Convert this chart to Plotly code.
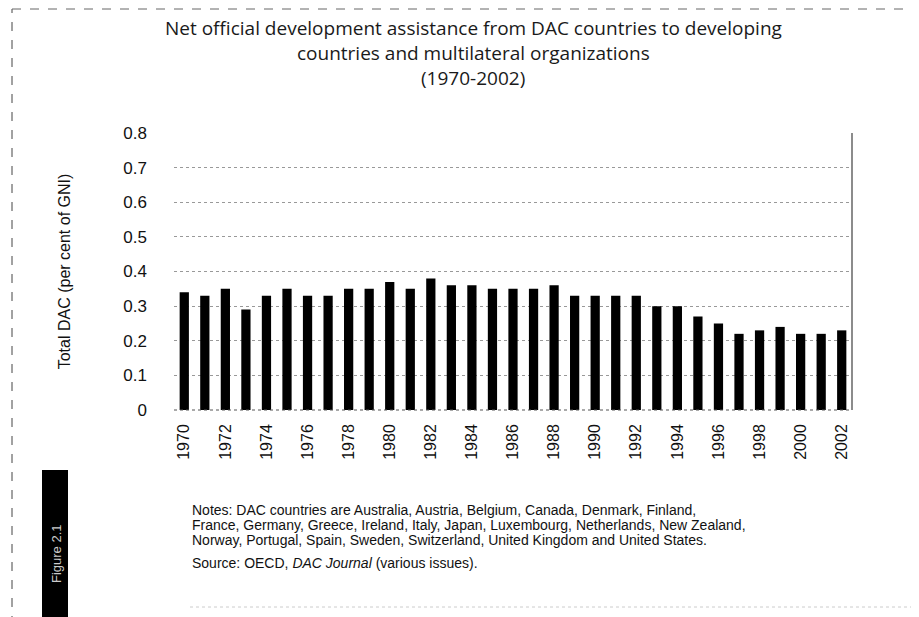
import plotly.graph_objects as go

years = list(range(1970, 2003))
oda_pct_gni = [0.34, 0.33, 0.35, 0.29, 0.33, 0.35, 0.33, 0.33, 0.35, 0.35,
               0.37, 0.35, 0.38, 0.36, 0.36, 0.35, 0.35, 0.35, 0.36, 0.33,
               0.33, 0.33, 0.33, 0.30, 0.30, 0.27, 0.25, 0.22, 0.23, 0.24,
               0.22, 0.22, 0.23]
tick_years = list(range(1970, 2003, 2))
y_ticks = [0, 0.1, 0.2, 0.3, 0.4, 0.5, 0.6, 0.7, 0.8]
y_tick_text = ["0", "0.1", "0.2", "0.3", "0.4", "0.5", "0.6", "0.7", "0.8"]

title_lines = ["Net official development assistance from DAC countries to developing",
               "countries and multilateral organizations",
               "(1970-2002)"]
notes_lines = ["Notes: DAC countries are Australia, Austria, Belgium, Canada, Denmark, Finland,",
               "France, Germany, Greece, Ireland, Italy, Japan, Luxembourg, Netherlands, New Zealand,",
               "Norway, Portugal, Spain, Sweden, Switzerland, United Kingdom and United States."]
source_text = "Source: OECD, <i>DAC Journal</i> (various issues)."
y_title = "Total DAC (per cent of GNI)"

# page has an 8px body margin; work in page coordinates and convert
OFF = 8
W, H = 919 - OFF, 617 - OFF
PL, PR, PT, PB = 174, 852, 133, 410          # plot area in page pixels
L, R, T, B = PL - OFF, PR - OFF, PT - OFF, PB - OFF

def px(x):
    return (x - PL) / (PR - PL)

def py(y):
    return (PB - y) / (PB - PT)

fig = go.Figure()
fig.add_trace(go.Bar(x=years, y=oda_pct_gni, marker=dict(color="black", line=dict(width=0)),
                     width=0.45))

fig.update_layout(
    width=W, height=H,
    margin=dict(l=L, r=W - R, t=T, b=H - B),
    paper_bgcolor="white", plot_bgcolor="white",
    showlegend=False,
    font=dict(family="Liberation Sans, Arial, sans-serif", color="black"),
)
fig.update_xaxes(range=[1969.5, 2002.5], tickvals=tick_years, ticktext=[str(y) for y in tick_years],
                 tickangle=-90, tickfont=dict(size=16, family="Liberation Sans", color="#111"),
                 showgrid=False, showline=False, ticks="", zeroline=False,
                 ticklabelstandoff=10)
fig.update_yaxes(range=[0, 0.8], tickvals=y_ticks, ticktext=y_tick_text,
                 tickfont=dict(size=17, family="Liberation Sans", color="#111"), ticks="",
                 showgrid=True, gridcolor="#999", griddash="dot", gridwidth=1,
                 zeroline=False, showline=False, ticklabelstandoff=26,
                 title=dict(text=y_title, standoff=48,
                            font=dict(size=16, family="Liberation Sans", color="#111")))

annotations = []
for i, line in enumerate(title_lines):
    annotations.append(dict(text=line, xref="paper", yref="paper", x=px(473), y=py(28 + 25 * i),
                            xanchor="center", yanchor="middle", showarrow=False, borderpad=0,
                            font=dict(size=19, family="Open Sans", color="#1a1a1a")))
for i, line in enumerate(notes_lines):
    annotations.append(dict(text=line, xref="paper", yref="paper", x=px(191), y=py(510 + 15 * i),
                            xanchor="left", yanchor="middle", showarrow=False, borderpad=0,
                            font=dict(size=14, family="Liberation Sans", color="#111")))
annotations.append(dict(text=source_text, xref="paper", yref="paper", x=px(191), y=py(563),
                        xanchor="left", yanchor="middle", showarrow=False, borderpad=0,
                        font=dict(size=14, family="Liberation Sans", color="#111")))
annotations.append(dict(text="Figure 2.1", xref="paper", yref="paper", x=px(56), y=py(553),
                        xanchor="center", yanchor="middle", showarrow=False, textangle=-90,
                        font=dict(size=13, family="Liberation Sans", color="#ccc")))
fig.update_layout(annotations=annotations)

shapes = [
    dict(type="line", xref="paper", yref="paper", x0=1, x1=1, y0=0, y1=1,
         line=dict(color="#666", width=1.5)),
    dict(type="line", xref="paper", yref="paper", x0=0, x1=1, y0=0, y1=0,
         line=dict(color="#555", width=1, dash="dot")),
    dict(type="rect", xref="paper", yref="paper", x0=px(42), x1=px(68), y0=py(625), y1=py(470),
         fillcolor="black", line=dict(width=0)),
    dict(type="line", xref="paper", yref="paper", x0=px(12), x1=px(12), y0=py(625), y1=py(9),
         line=dict(color="#444", width=1, dash="dash")),
    dict(type="line", xref="paper", yref="paper", x0=px(12), x1=px(930), y0=py(9), y1=py(9),
         line=dict(color="#666", width=1, dash="dash")),
    dict(type="line", xref="paper", yref="paper", x0=px(190), x1=px(930), y0=py(607), y1=py(607),
         line=dict(color="#ccc", width=1, dash="dot")),
]
fig.update_layout(shapes=shapes)

fig.write_html("out.html")
